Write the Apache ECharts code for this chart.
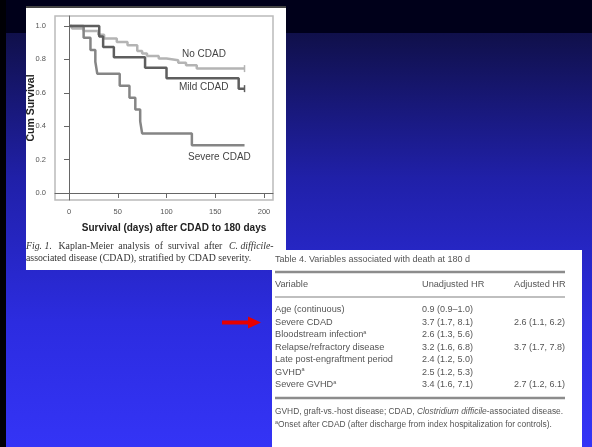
<!DOCTYPE html>
<html>
<head>
<meta charset="utf-8">
<script src="https://cdn.jsdelivr.net/npm/echarts@6/dist/echarts.min.js"></script>
<style>
  html, body { margin: 0; padding: 0; }
  #main { width: 592px; height: 447px; }
</style>
</head>
<body>
<div id="main"></div>
<script>
// Kaplan-Meier steps (day, cumulative survival)
const noCdadDays = [0, 3, 15, 30, 36, 49, 60, 70, 75, 80, 92, 100, 112, 120, 131, 180];
const noCdadSurv = [1.0, 0.985, 0.97, 0.948, 0.925, 0.905, 0.885, 0.85, 0.835, 0.82, 0.805, 0.795, 0.78, 0.765, 0.745, 0.745];

const mildDays = [0, 31, 35, 46, 78, 100, 174, 180];
const mildSurv = [1.0, 0.9375, 0.875, 0.8125, 0.75, 0.6875, 0.625, 0.625];

const severeDays = [0, 15, 22, 27, 29, 52, 62, 68, 73, 75, 126, 180];
const severeSurv = [1.0, 0.929, 0.857, 0.786, 0.714, 0.643, 0.571, 0.5, 0.429, 0.357, 0.286, 0.286];

const xTicks = [0, 50, 100, 150, 200];
const yTicks = [0, 0.2, 0.4, 0.6, 0.8, 1.0];

// Table 4
const tableVars = ['Age (continuous)', 'Severe CDAD', 'Bloodstream infection', 'Relapse/refractory disease',
    'Late post-engraftment period', 'GVHD', 'Severe GVHD'];
const tableNote = [false, false, true, false, false, true, true];
const unadjHR = ['0.9 (0.9\u20131.0)', '3.7 (1.7, 8.1)', '2.6 (1.3, 5.6)', '3.2 (1.6, 6.8)',
    '2.4 (1.2, 5.0)', '2.5 (1.2, 5.3)', '3.4 (1.6, 7.1)'];
const adjHR = ['', '2.6 (1.1, 6.2)', '', '3.7 (1.7, 7.8)', '', '', '2.7 (1.2, 6.1)'];

const pairs = (xs, ys) => xs.map((d, i) => [d, ys[i]]);
const withEndTick = (arr) => arr.map((p, i) => i === arr.length - 1
    ? { value: p, symbol: 'rect', symbolSize: [1.5, 7], itemStyle: { opacity: 1 } }
    : { value: p, symbol: 'none' });

const tblFont = '"Liberation Sans", Arial, sans-serif';
const tblColor = '#555';

function tableGraphics() {
    const g = [];
    const x0 = 275, c2 = 422, c3 = 514;
    const txt = (x, y, text, size) => ({
        type: 'text', x: x, y: y, z: 5,
        style: { text: text, font: (size || 9.2) + 'px ' + tblFont, fill: tblColor, textVerticalAlign: 'middle' }
    });
    g.push(txt(x0, 260, 'Table 4. Variables associated with death at 180 d', 9));
    g.push({ type: 'line', z: 5, shape: { x1: x0, y1: 272, x2: 565, y2: 272 }, style: { stroke: '#8c8c8c', lineWidth: 2.5 } });
    g.push(txt(x0, 284, 'Variable'));
    g.push(txt(c2, 284, 'Unadjusted HR'));
    g.push(txt(c3, 284, 'Adjusted HR'));
    g.push({ type: 'line', z: 5, shape: { x1: x0, y1: 297, x2: 565, y2: 297 }, style: { stroke: '#aaa', lineWidth: 1.5 } });
    tableVars.forEach((v, i) => {
        const y = 310 + i * 12.5;
        g.push({
            type: 'text', x: x0, y: y - 0.5, z: 5,
            style: {
                text: tableNote[i] ? '{n|' + v + '}{s|a}' : '{n|' + v + '}',
                textVerticalAlign: 'middle',
                rich: {
                    n: { font: '9.2px ' + tblFont, fill: tblColor },
                    s: { font: '5.5px ' + tblFont, fill: tblColor, padding: [0, 0, 5, 0] }
                }
            }
        });
        g.push(txt(c2, y, unadjHR[i], 9));
        if (adjHR[i]) g.push(txt(c3, y, adjHR[i], 9));
    });
    g.push({ type: 'line', z: 5, shape: { x1: x0, y1: 398, x2: 565, y2: 398 }, style: { stroke: '#8c8c8c', lineWidth: 2.5 } });
    g.push({
        type: 'text', x: x0, y: 412, z: 5,
        style: {
            text: '{n|GVHD, graft-vs.-host disease; CDAD, }{i|Clostridium difficile}{n|-associated disease.}',
            textVerticalAlign: 'middle',
            rich: {
                n: { font: '8.4px ' + tblFont, fill: tblColor },
                i: { font: 'italic 8.4px ' + tblFont, fill: tblColor }
            }
        }
    });
    g.push({
        type: 'text', x: x0, y: 425, z: 5,
        style: {
            text: '{s|a}{n|Onset after CDAD (after discharge from index hospitalization for controls).}',
            textVerticalAlign: 'middle',
            rich: {
                n: { font: '8.4px ' + tblFont, fill: tblColor },
                s: { font: '5.5px ' + tblFont, fill: tblColor, padding: [0, 0, 5, 0] }
            }
        }
    });
    return g;
}

const chart = echarts.init(document.getElementById('main'));

const background = [
    { type: 'rect', z: -10, shape: { x: 0, y: 0, width: 592, height: 33 }, style: { fill: '#00001a' } },
    {
        type: 'rect', z: -10, shape: { x: 0, y: 33, width: 592, height: 414 },
        style: {
            fill: new echarts.graphic.LinearGradient(0, 0, 0, 1, [
                { offset: 0, color: '#10104a' },
                { offset: 0.35, color: '#2020a8' },
                { offset: 0.7, color: '#2c2ce0' },
                { offset: 1, color: '#3434f6' }
            ])
        }
    },
    { type: 'rect', z: -9, shape: { x: 0, y: 0, width: 6, height: 447 }, style: { fill: '#000005' } },
    // figure panel
    { type: 'rect', z: -8, shape: { x: 26, y: 7, width: 260, height: 263 }, style: { fill: '#ffffff' } },
    { type: 'line', z: -7, shape: { x1: 26, y1: 7, x2: 286, y2: 7 }, style: { stroke: '#444', lineWidth: 2 } },
    // table panel
    { type: 'rect', z: -8, shape: { x: 272, y: 250, width: 310, height: 197 }, style: { fill: '#ffffff' } }
];

const serif = '"Liberation Serif", serif';
const plotLabels = [
    { type: 'text', x: 182, y: 54, z: 5, style: { text: 'No CDAD', font: '10px "Liberation Sans", Arial', fill: '#444', textVerticalAlign: 'middle' } },
    { type: 'text', x: 179, y: 87, z: 5, style: { text: 'Mild CDAD', font: '10px "Liberation Sans", Arial', fill: '#444', textVerticalAlign: 'middle' } },
    { type: 'text', x: 188, y: 157, z: 5, style: { text: 'Severe CDAD', font: '10px "Liberation Sans", Arial', fill: '#444', textVerticalAlign: 'middle' } },
    {
        type: 'text', x: 26, y: 246, z: 5,
        style: {
            text: '{i|Fig. 1.}  {n|Kaplan-Meier  analysis  of  survival  after}  {i|C. difficile-}',
            textVerticalAlign: 'middle',
            rich: {
                n: { font: '9.8px ' + serif, fill: '#333' },
                i: { font: 'italic 9.8px ' + serif, fill: '#333' }
            }
        }
    },
    { type: 'text', x: 26, y: 258, z: 5, style: { text: 'associated disease (CDAD), stratified by CDAD severity.', font: '9.8px ' + serif, fill: '#333', textVerticalAlign: 'middle' } },
    // red arrow pointing at "Severe CDAD"
    { type: 'polygon', z: 5, shape: { points: [[222, 320.5], [248, 320.5], [248, 316.5], [261, 322.5], [248, 328.5], [248, 324.5], [222, 324.5]] }, style: { fill: '#e60000' } }
];

chart.setOption({
    animation: false,
    grid: { left: 55, right: 319, top: 16, bottom: 247, show: true, borderColor: '#bbb', borderWidth: 1.5, backgroundColor: 'transparent' },
    xAxis: {
        type: 'value', min: -14.36, max: 209.2,
        name: 'Survival (days) after CDAD to 180 days', nameLocation: 'middle', nameGap: 23,
        nameTextStyle: { fontSize: 10, fontWeight: 'bold', color: '#222', fontFamily: 'Liberation Sans', padding: [0, 0, 0, 20] },
        axisLine: { show: true, lineStyle: { color: '#666', width: 1 } },
        axisTick: { show: true, length: 5, customValues: xTicks, lineStyle: { color: '#666' } },
        axisLabel: { customValues: xTicks, fontSize: 7.5, color: '#555', margin: 8, fontFamily: 'Liberation Sans' },
        splitLine: { show: false }
    },
    yAxis: {
        type: 'value', min: -0.042, max: 1.06,
        name: 'Cum Survival', nameLocation: 'middle', nameGap: 18, nameRotate: 90, nameMoveOverlap: false,
        nameTextStyle: { fontSize: 10.5, fontWeight: 'bold', color: '#222', fontFamily: 'Liberation Sans' },
        axisLine: { show: true, lineStyle: { color: '#666', width: 1 } },
        axisTick: { show: true, length: 5, customValues: yTicks, lineStyle: { color: '#666' } },
        axisLabel: { customValues: yTicks, fontSize: 7.5, color: '#555', margin: 9, fontFamily: 'Liberation Sans', formatter: v => v.toFixed(1) },
        splitLine: { show: false }
    },
    graphic: { elements: background.concat(plotLabels, tableGraphics()) },
    series: [
        {
            name: 'No CDAD', type: 'line', step: 'end', z: 3,
            data: withEndTick(pairs(noCdadDays, noCdadSurv)),
            lineStyle: { color: '#b4b4b4', width: 2.5 }, itemStyle: { color: '#b4b4b4' }
        },
        {
            name: 'Severe CDAD', type: 'line', step: 'end', z: 4,
            data: pairs(severeDays, severeSurv), showSymbol: false,
            lineStyle: { color: '#858585', width: 2.5 }
        },
        {
            name: 'Mild CDAD', type: 'line', step: 'end', z: 5,
            data: withEndTick(pairs(mildDays, mildSurv)),
            lineStyle: { color: '#5e5e5e', width: 2.5 }, itemStyle: { color: '#5e5e5e' }
        }
    ]
});
</script>
</body>
</html>
